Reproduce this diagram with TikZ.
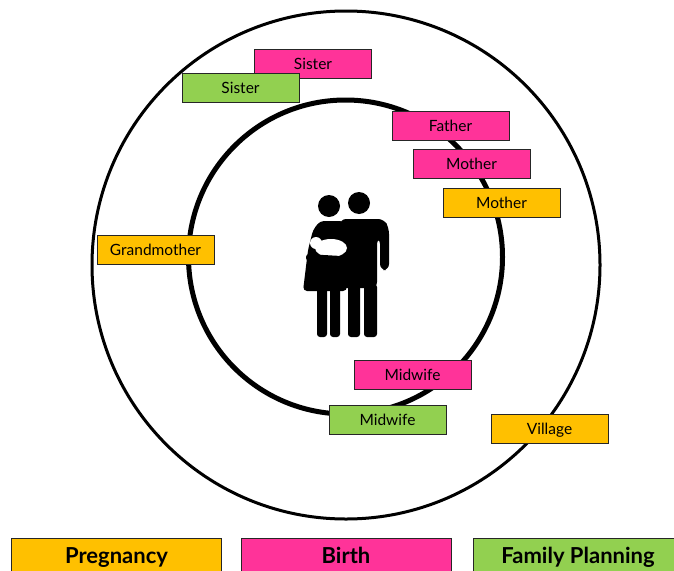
\documentclass[tikz,border=0pt]{standalone}
\usepackage{fontspec}
\setmainfont{Lato}
\definecolor{pregcol}{HTML}{FFC000}
\definecolor{birthcol}{HTML}{FF3399}
\definecolor{plancol}{HTML}{92D050}

\begin{document}
\begin{tikzpicture}[x=1pt,y=-1pt,
	who/.style={draw=black!85, line width=0.8pt, minimum width=117pt, minimum height=29pt, inner sep=0pt, text height=11.2pt, text depth=0pt, font=\fontsize{15.5}{17}\selectfont},
	legendbox/.style={draw=black!85, line width=0.8pt, minimum width=210pt, minimum height=36pt, inner sep=0pt, text height=15.8pt, text depth=0pt, font=\fontsize{22}{24}\selectfont\bfseries},
	limb/.style={fill=black, rounded corners=3pt}
]
\useasboundingbox (0,0) rectangle (674,570);
% circles of people
\draw[line width=3pt] (346,265) circle[radius=254];
\draw[line width=5pt] (345.5,257) circle[radius=157];
% family in the middle
\fill (329,206) circle[radius=11];
\fill (359,203) circle[radius=11];
\fill[rounded corners=6pt] (340,219) -- (384,219) -- (389,228) -- (389,270) -- (380,270) -- (380,238) -- (377,238) -- (377,288) -- (340,288) -- cycle;
\fill[rounded corners=4pt] (320,221) -- (344,221) -- (347,291) -- (303,291) -- (308,250) -- (313,230) -- cycle;
\foreach \lx/\lw in {317/10,330/10,348/12,364/13}{ \fill[limb] (\lx,284) rectangle ++(\lw,53);}
\fill[white] (331,248) ellipse[x radius=16, y radius=9];
\fill[white] (316,243) circle[radius=6];
\fill[rounded corners=3pt] (306,254) -- (341,256) -- (342,262) -- (306,261) -- cycle;
% who helps
\foreach \nm/\col/\px/\py/\txt in {sisterB/birthcol/313/63.5/Sister, sisterF/plancol/240.5/88/Sister,
	fatherB/birthcol/450.5/125.5/Father, motherB/birthcol/471.5/163.5/Mother, motherP/pregcol/501.5/202.5/Mother,
	grandmaP/pregcol/155.5/250/Grandmother, midwifeB/birthcol/412.5/374.5/Midwife, midwifeF/plancol/387.5/419.5/Midwife,
	villageP/pregcol/549.5/428.5/Village}
	\node[who, fill=\col] (\nm) at (\px,\py) {\txt};
% legend
\foreach \nm/\col/\px/\txt in {legP/pregcol/116.5/Pregnancy, legB/birthcol/346/Birth, legF/plancol/578/Family Planning}
	\node[legendbox, fill=\col] (\nm) at (\px,556) {\txt};
\end{tikzpicture}
\end{document}
